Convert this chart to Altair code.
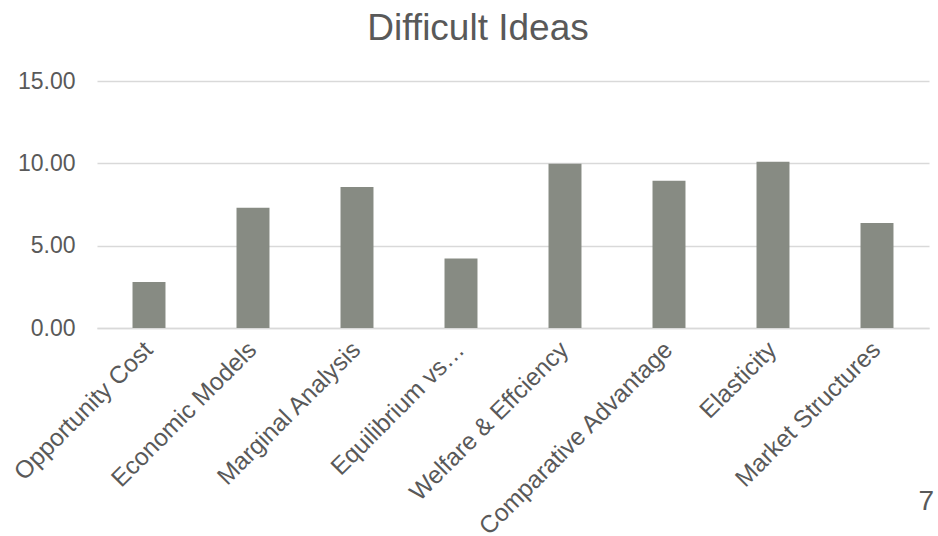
import altair as alt
import pandas as pd

# Survey results: how difficult each economics idea was rated
topics = [
    "Opportunity Cost",
    "Economic Models",
    "Marginal Analysis",
    "Equilibrium vs…",
    "Welfare & Effciency",
    "Comparative Advantage",
    "Elasticity",
    "Market Structures",
]
scores = [2.80, 7.30, 8.56, 4.22, 9.98, 8.94, 10.10, 6.37]
y_ticks = [0, 5, 10, 15]
page_number = "7"

df = pd.DataFrame({"topic": topics, "score": scores})

TEXT = "#595959"
GRID = "#D9D9D9"
BAR = "#878B83"
FONT = "Liberation Sans"

bars = alt.Chart(df).mark_bar(color=BAR).encode(
    x=alt.X(
        "topic:N",
        sort=topics,
        title=None,
        scale=alt.Scale(paddingInner=0.683, paddingOuter=0.3415),
        axis=alt.Axis(
            labelAngle=-45,
            labelAlign="right",
            labelBaseline="middle",
            labelFontSize=24.5,
            labelColor=TEXT,
            labelFont=FONT,
            labelPadding=18,
            labelLimit=400,
            ticks=False,
            domain=True,
            domainColor=GRID,
            domainWidth=1.5,
            grid=False,
        ),
    ),
    y=alt.Y(
        "score:Q",
        title=None,
        scale=alt.Scale(domain=[0, 15], nice=False),
        axis=alt.Axis(
            values=y_ticks,
            format=".2f",
            labelFontSize=23,
            labelColor=TEXT,
            labelFont=FONT,
            labelPadding=22,
            ticks=False,
            domain=False,
            domainOpacity=0,
            grid=True,
            gridColor=GRID,
            gridWidth=1.5,
        ),
    ),
)

# Slide number in the lower right corner
page = alt.Chart(pd.DataFrame({"label": [page_number]})).mark_text(
    align="right",
    baseline="alphabetic",
    fontSize=28,
    font=FONT,
    color=TEXT,
).encode(x=alt.value(837), y=alt.value(429), text="label:N")

chart = (
    alt.layer(bars, page)
    .properties(
        width=832,
        height=247,
        autosize=alt.AutoSizeParams(type="none"),
        padding={"left": 97, "top": 81, "right": 9, "bottom": 208},
        view=alt.ViewBackground(stroke="transparent", strokeWidth=0),
        title=alt.TitleParams(
            "Difficult Ideas",
            fontSize=37,
            font=FONT,
            fontWeight="normal",
            color=TEXT,
            anchor="middle",
            dx=-35,
            offset=22,
        ),
    )
    .configure_view(stroke="transparent", strokeWidth=0)
    .configure_axisY(domain=False, ticks=False)
    .configure_axisX(grid=False, ticks=False)
    .configure(background="white")
)

chart.save("out.html", embed_options={"renderer": "svg", "actions": False})
